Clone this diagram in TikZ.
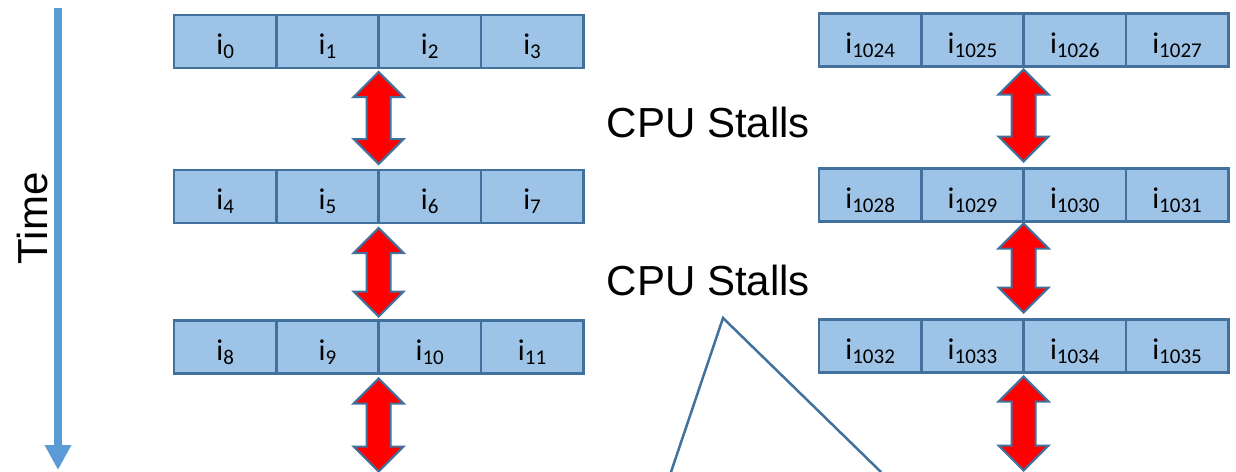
\documentclass[tikz,border=0pt]{standalone}
\usepackage{fontspec}
\setmainfont{Carlito}
\newfontfamily\arialf{Liberation Sans}
\usetikzlibrary{calc,arrows.meta}
\definecolor{cellfill}{HTML}{9DC3E6}
\definecolor{edgeblue}{HTML}{41719C}
\definecolor{timeblue}{HTML}{5B9BD5}
% instruction label: i with a lowered index
\newcommand\ilab[1]{i\raisebox{-4pt}{\fontsize{21}{21}\selectfont #1}}
% two-headed block arrow from top tip #1 down to bottom tip #2
\newcommand\stallarrow[2]{%
  \draw[stall] let \p1=(#1), \p2=(#2) in
    (\p1) -- ++(25pt,-25pt) -- ++(-13pt,0pt) -- (\x1+12pt,\y2+25pt)
    -- ++(13pt,0pt) -- (\p2) -- ++(-25pt,25pt) -- ++(13pt,0pt)
    -- (\x1-12pt,\y1-25pt) -- ++(-13pt,0pt) -- cycle;}
\tikzset{
  cell/.style={draw=edgeblue, fill=cellfill, line width=2.8pt,
    minimum width=102.3pt, minimum height=53pt, inner sep=0pt, outer sep=0pt,
    text height=26pt, text depth=0pt, font=\fontsize{30}{30}\selectfont},
  stall/.style={fill=red, draw=edgeblue, line width=2pt, line join=miter},
  bigtext/.style={font=\arialf\fontsize{42}{42}\selectfont, inner sep=0pt},
  timeline/.style={timeblue, line width=8pt, -{Triangle[width=25pt,length=25pt]}},
  wedge/.style={edgeblue, line width=2.5pt}
}
\begin{document}
\begin{tikzpicture}[x=1pt,y=-1pt]
\useasboundingbox (0,0) rectangle (1236,471);

% time axis
\coordinate (t0) at (58,8);
\coordinate (t1) at (58,470);
\draw[timeline] (t0) -- (t1);
\node[bigtext, rotate=90] (time) at (32.5,218.5) {Time};

% instruction blocks: i0..i11 on the left, i1024..i1035 on the right
\foreach \r/\yl/\yr in {0/41.5/40, 1/196.5/195, 2/347/346} {
  \foreach \c in {0,...,3} {
    \pgfmathtruncatemacro\n{4*\r+\c}
    \pgfmathtruncatemacro\m{1024+\n}
    \node[cell] (a\n) at ({174+102.3*(\c+0.5)},\yl) {\ilab{\n}};
    \node[cell] (b\n) at ({819+102.3*(\c+0.5)},\yr) {\ilab{\m}};
  }
}

% memory waits between blocks
\coordinate (aend) at ($(a9.south east)+(0,98)$);
\coordinate (bend) at ($(b9.south east)+(0,98)$);
\stallarrow{$(a1.south east)+(0,4)$}{$(a6.north west)+(0,-6)$}
\stallarrow{$(a5.south east)+(0,5)$}{$(a10.north west)+(0,-4)$}
\stallarrow{$(a9.south east)+(0,5)$}{aend}
\stallarrow{$(b1.south east)+(0,3)$}{$(b6.north west)+(0,-7)$}
\stallarrow{$(b5.south east)+(0,2)$}{$(b10.north west)+(0,-7)$}
\stallarrow{$(b9.south east)+(0,4)$}{bend}

% labels
\node[bigtext, anchor=base] (stall1) at (708.5,137) {CPU Stalls};
\node[bigtext, anchor=base] (stall2) at (708.5,295) {CPU Stalls};

% wedge below the second label
\coordinate (apex) at (723,318);
\coordinate (wl) at (671,472);
\coordinate (wr) at (881,472);
\draw[wedge] (wl) -- (apex) -- (wr);
\end{tikzpicture}
\end{document}
